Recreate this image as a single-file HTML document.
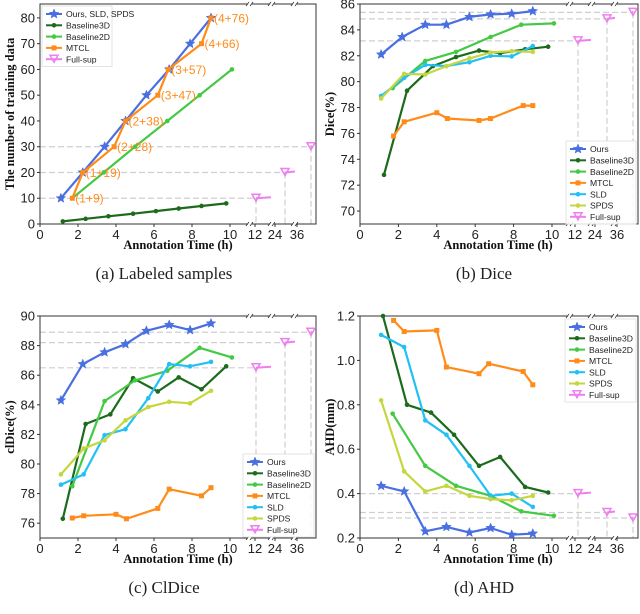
<!DOCTYPE html>
<html><head><meta charset="utf-8"><style>
body{margin:0;background:#fff;width:640px;height:614px;overflow:hidden}
svg{display:block}
</style></head><body>
<svg id="fig" width="640" height="614" xmlns="http://www.w3.org/2000/svg" font-family="Liberation Sans, sans-serif"></svg>
<script>
// ---- data ----
const seriesNames=["Ours","Baseline3D","Baseline2D","MTCL","SLD","SPDS"];
const fullTicks=["12","24","36"];
// (a) labeled samples
const aOursX=[1.1,2.25,3.4,4.5,5.6,6.8,7.9,9], aOursY=[10,20,30,40,50,60,70,80];
const aB3X=[1.2,2.4,3.6,4.9,6.1,7.3,8.5,9.8], aB3Y=[1,2,3,4,5,6,7,8];
const aB2X=[1.7,3.35,5,6.7,8.4,10.1], aB2Y=[10,20,30,40,50,60];
const aMtX=[1.7,2.25,3.9,4.5,6.2,6.75,8.5,9], aMtY=[10,20,30,40,50,60,70,80];
const aMtLabels=["(1+9)","(1+19)","(2+28)","(2+38)","(3+47)","(3+57)","(4+66)","(4+76)"];
const aFull=[10,20,30];
// (b) dice
const bOursX=[1.1,2.2,3.4,4.5,5.7,6.8,7.9,9], bOursY=[82.1,83.45,84.4,84.4,85.0,85.2,85.25,85.45];
const bB3X=[1.25,2.45,3.8,5,6.2,7.3,8.6,9.8], bB3Y=[72.8,79.3,81.2,81.9,82.4,82.2,82.5,82.7];
const bB2X=[1.7,3.4,5,6.8,8.4,10.1], bB2Y=[79.5,81.6,82.3,83.45,84.4,84.5];
const bMtX=[1.75,2.3,4,4.55,6.2,6.8,8.5,9], bMtY=[75.8,76.9,77.6,77.15,77.0,77.15,78.15,78.15];
const bSldX=[1.1,2.3,3.4,4.5,5.7,6.8,7.9,9], bSldY=[78.9,80.3,81.3,81.2,81.5,82.0,81.95,82.75];
const bSpX=[1.1,2.3,3.4,4.5,5.7,6.8,7.9,9], bSpY=[78.7,80.6,80.55,81.2,81.8,82.25,82.35,82.3];
const bFull=[83.15,84.85,85.35];
// (c) cldice
const cOursX=[1.1,2.25,3.4,4.5,5.6,6.8,7.9,9], cOursY=[84.3,86.75,87.55,88.1,89.0,89.4,89.05,89.5];
const cB3X=[1.2,2.4,3.7,4.9,6.2,7.3,8.5,9.8], cB3Y=[76.3,82.7,83.35,85.8,84.9,85.85,85.05,86.6];
const cB2X=[1.7,3.4,5,6.7,8.4,10.1], cB2Y=[78.5,84.25,85.65,86.3,87.85,87.2];
const cMtX=[1.7,2.3,4,4.55,6.2,6.8,8.5,9], cMtY=[76.35,76.5,76.6,76.3,77.0,78.3,77.85,78.4];
const cSldX=[1.1,2.3,3.4,4.5,5.7,6.8,7.9,9], cSldY=[78.6,79.3,81.95,82.35,84.45,86.75,86.6,86.9];
const cSpX=[1.1,2.3,3.4,4.5,5.7,6.8,7.9,9], cSpY=[79.3,81.05,81.6,82.95,83.85,84.2,84.1,84.95];
const cFull=[86.5,88.2,88.9];
// (d) AHD
const dOursX=[1.1,2.3,3.4,4.5,5.7,6.8,7.9,9], dOursY=[0.435,0.41,0.23,0.25,0.225,0.245,0.215,0.22];
const dB3X=[1.2,2.45,3.7,4.9,6.2,7.3,8.6,9.8], dB3Y=[1.2,0.80,0.765,0.665,0.525,0.565,0.43,0.405];
const dB2X=[1.7,3.4,5,6.8,8.4,10.1], dB2Y=[0.76,0.525,0.435,0.39,0.32,0.30];
const dMtX=[1.75,2.3,4,4.5,6.2,6.7,8.5,9], dMtY=[1.18,1.13,1.135,0.97,0.94,0.985,0.95,0.89];
const dSldX=[1.1,2.3,3.4,4.5,5.7,6.8,7.9,9], dSldY=[1.115,1.06,0.73,0.665,0.525,0.39,0.40,0.34];
const dSpX=[1.1,2.3,3.4,4.5,5.7,6.8,7.9,9], dSpY=[0.82,0.50,0.41,0.435,0.39,0.375,0.37,0.39];
const dFull=[0.40,0.315,0.29];
const aYTicks=[0,10,20,30,40,50,60,70,80], bYTicks=[70,72,74,76,78,80,82,84,86];
const cYTicks=[76,78,80,82,84,86,88,90], dYTicks=[0.2,0.4,0.6,0.8,1.0,1.2];
const xTicks=[0,2,4,6,8,10];

const C={Ours:"#4a6fe0",Baseline3D:"#1c6b1c",Baseline2D:"#44c944",MTCL:"#ff8c1a",SLD:"#22c0f5",SPDS:"#c6d63e",Full:"#ee7fee"};
const NS="http://www.w3.org/2000/svg";
const svg=document.getElementById('fig');
function mk(tag,attrs,parent,name){const e=document.createElementNS(NS,tag);for(const k in attrs)e.setAttribute(k,attrs[k]);


(parent||svg).appendChild(e);return e;}
function marker(g,kind,x,y,col,name){
 if(kind==='star'){let p=[];for(let i=0;i<10;i++){const r=i%2?2.2:5,a=-Math.PI/2+i*Math.PI/5;p.push((x+r*Math.cos(a)).toFixed(1)+','+(y+r*Math.sin(a)).toFixed(1));}
  mk('polygon',{points:p.join(' '),fill:col,stroke:col,'stroke-width':0.5},g,name);}
 else if(kind==='tri'){mk('polygon',{points:`${x-4},${y-4} ${x+4},${y-4} ${x},${y+3}`,fill:'none',stroke:col,'stroke-width':1.5},g,name);}
 else if(kind==='sq'){mk('rect',{x:x-2.5,y:y-2.5,width:5,height:5,fill:col},g,name);}
 else mk('circle',{cx:x,cy:y,r:2.3,fill:col},g,name);
}
function panel(o){
 const g=mk('g',{},svg,o.id+'-panel');
 const X=t=>o.L+t*o.ppu, Y=v=>o.B-(v-o.ymin)/(o.ymax-o.ymin)*(o.B-o.T);
 const fx=[o.L+o.fs[0],o.L+o.fs[1],o.L+o.fs[2]];
 o.full.forEach((v,i)=>{mk('line',{x1:o.L,y1:Y(v),x2:fx[i],y2:Y(v),stroke:'#cfcfcf','stroke-width':1.2,'stroke-dasharray':'6,3'},g,'reference-line-h');
  mk('line',{x1:fx[i],y1:Y(v),x2:fx[i],y2:o.B,stroke:'#cfcfcf','stroke-width':1.2,'stroke-dasharray':'6,3'},g,'reference-line-v');});
 mk('rect',{x:o.L,y:o.T,width:o.R-o.L,height:o.B-o.T,fill:'none',stroke:'#333','stroke-width':1},g,'axes-frame');
 [210,232,255].forEach(b=>{[o.T,o.B].forEach(yy=>{mk('rect',{x:o.L+b-2,y:yy-2,width:4,height:4,fill:'#fff'},g,'axis-break-gap');
  mk('path',{d:`M${o.L+b-4},${yy+2}L${o.L+b-1},${yy-2}M${o.L+b},${yy+2}L${o.L+b+3},${yy-2}`,stroke:'#333','stroke-width':0.8,fill:'none'},g,'axis-break');});});
 xTicks.forEach(t=>{mk('line',{x1:X(t),y1:o.B,x2:X(t),y2:o.B+3,stroke:'#333'},g,'x-tick');
  const tx=mk('text',{x:X(t),y:o.B+15,'font-size':13,'text-anchor':'middle',fill:'#222'},g,'x-tick-label');tx.textContent=t;});
 fullTicks.forEach((s,i)=>{const xx=o.L+[215,235,257][i];mk('line',{x1:xx,y1:o.B,x2:xx,y2:o.B+3,stroke:'#333'},g,'x-tick');
  const tx=mk('text',{x:xx,y:o.B+15,'font-size':13,'text-anchor':'middle',fill:'#222'},g,'x-tick-label');tx.textContent=s;});
 o.yt.forEach(v=>{mk('line',{x1:o.L-3,y1:Y(v),x2:o.L,y2:Y(v),stroke:'#333'},g,'y-tick');
  const tx=mk('text',{x:o.L-5,y:Y(v)+4.5,'font-size':13,'text-anchor':'end',fill:'#222'},g,'y-tick-label');tx.textContent=o.fmt?o.fmt(v):v;});
 let t=mk('text',{x:o.L+138,y:o.B+25,'font-size':12.5,'font-weight':'bold','text-anchor':'middle','font-family':'Liberation Serif, serif',fill:'#111'},g,'x-axis-title');t.textContent='Annotation Time (h)';
 t=mk('text',{x:0,y:0,'font-size':12.5,'font-weight':'bold','text-anchor':'middle','font-family':'Liberation Serif, serif',fill:'#111',transform:`translate(${o.L-26},${(o.T+o.B)/2}) rotate(-90)`},g,'y-axis-title');t.textContent=o.ylab;
 t=mk('text',{x:o.L+124,y:o.B+55,'font-size':17,'text-anchor':'middle','font-family':'Liberation Serif, serif',fill:'#222'},g,'panel-caption');t.textContent=o.cap;
 o.series.forEach(s=>{const pts=s.x.map((xv,i)=>X(xv).toFixed(1)+','+Y(s.y[i]).toFixed(1)).join(' ');
  mk('polyline',{points:pts,fill:'none',stroke:C[s.c],'stroke-width':2.2,'stroke-linejoin':'round'},g,'series-line-'+s.c.toLowerCase());
  s.x.forEach((xv,i)=>marker(g,s.m,X(xv),Y(s.y[i]),C[s.c],'point-'+s.c.toLowerCase()));});
 o.full.forEach((v,i)=>{const nx=[o.L+231,o.L+255,o.L+272][i];
  mk('line',{x1:fx[i],y1:Y(v),x2:Math.min(nx,o.R),y2:Y(v)-1,stroke:C.Full,'stroke-width':2},g,'full-sup-line');
  marker(g,'tri',fx[i],Y(v),C.Full,'point-full-sup');});
 if(o.after)o.after(g,X,Y);
 const lg=mk('g',{},g,'legend');const items=o.leg;
 mk('rect',{x:o.lx,y:o.ly,width:o.lw,height:items.length*11.3+4,fill:'#fff','fill-opacity':0.85,stroke:'#ddd','stroke-width':0.8},lg,'legend-box');
 items.forEach((it,i)=>{const yy=o.ly+8+i*11.3;
  mk('line',{x1:o.lx+4,y1:yy,x2:o.lx+20,y2:yy,stroke:C[it.c],'stroke-width':2},lg,'legend-line');
  marker(lg,it.m,o.lx+12,yy,C[it.c],'legend-marker');
  const tx=mk('text',{x:o.lx+24,y:yy+3.2,'font-size':8.6,fill:'#222'},lg,'legend-entry');tx.textContent=it.t;});
}
const mkS=(names,xs,ys)=>names.map((n,i)=>({c:n,m:n==='Ours'?'star':(n==='MTCL'?'sq':'dot'),x:xs[i],y:ys[i]}));
const L6=seriesNames.map(n=>({c:n,t:n,m:n==='Ours'?'star':(n==='MTCL'?'sq':'dot')})).concat([{c:'Full',t:'Full-sup',m:'tri'}]);
panel({id:'a',L:40,R:316,T:4,B:224,ppu:19,ymin:0,ymax:85.4,yt:aYTicks,fs:[216,245,271],full:aFull,ylab:'The number of training data',cap:'(a) Labeled samples',
 series:mkS(["Ours","Baseline3D","Baseline2D","MTCL"],[aOursX,aB3X,aB2X,aMtX],[aOursY,aB3Y,aB2Y,aMtY]),
 leg:[{c:'Ours',t:'Ours, SLD, SPDS',m:'star'},{c:'Baseline3D',t:'Baseline3D',m:'dot'},{c:'Baseline2D',t:'Baseline2D',m:'dot'},{c:'MTCL',t:'MTCL',m:'sq'},{c:'Full',t:'Full-sup',m:'tri'}],
 lx:42,ly:6,lw:70,
 after:(g,X,Y)=>{aMtX.forEach((xv,i)=>{const t=mk('text',{x:X(xv)+3,y:Y(aMtY[i])+4.5,'font-size':12,fill:C.MTCL},g,'mtcl-annotation');t.textContent=aMtLabels[i];});}});
panel({id:'b',L:360,R:638,T:4,B:224,ppu:19.2,ymin:69,ymax:86,yt:bYTicks,fs:[218,247,273],full:bFull,ylab:'Dice(%)',cap:'(b) Dice',
 series:mkS(seriesNames,[bOursX,bB3X,bB2X,bMtX,bSldX,bSpX],[bOursY,bB3Y,bB2Y,bMtY,bSldY,bSpY]),leg:L6,lx:566,ly:141,lw:70});
panel({id:'c',L:40,R:316,T:316,B:538,ppu:19,ymin:75,ymax:90,yt:cYTicks,fs:[216,245,271],full:cFull,ylab:'clDice(%)',cap:'(c) ClDice',
 series:mkS(seriesNames,[cOursX,cB3X,cB2X,cMtX,cSldX,cSpX],[cOursY,cB3Y,cB2Y,cMtY,cSldY,cSpY]),leg:L6,lx:243,ly:454,lw:71});
panel({id:'d',L:360,R:638,T:316,B:538,ppu:19.2,ymin:0.2,ymax:1.2,yt:dYTicks,fs:[218,247,273],full:dFull,ylab:'AHD(mm)',cap:'(d) AHD',fmt:v=>v.toFixed(1),
 series:mkS(seriesNames,[dOursX,dB3X,dB2X,dMtX,dSldX,dSpX],[dOursY,dB3Y,dB2Y,dMtY,dSldY,dSpY]),leg:L6,lx:565,ly:319,lw:71});
</script>
</body></html>
